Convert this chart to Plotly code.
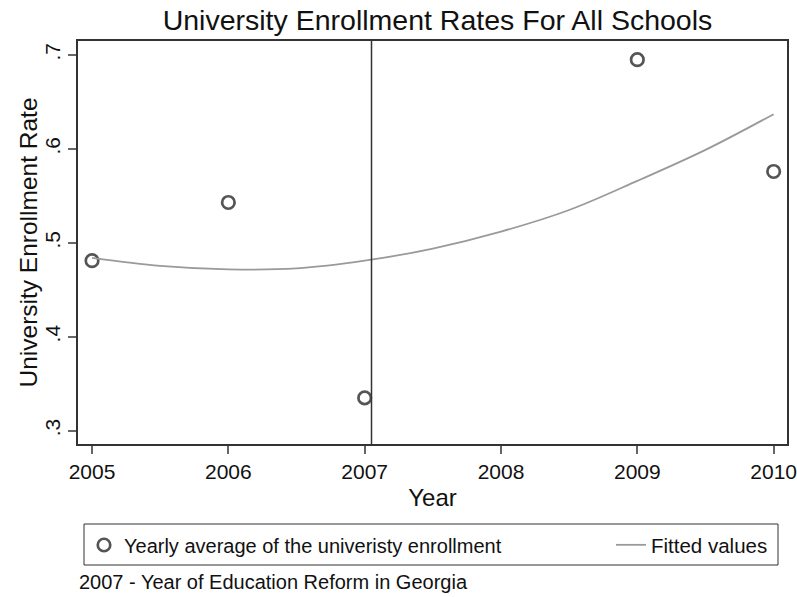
import plotly.graph_objects as go

# Yearly averages of university enrollment
years = [2005, 2006, 2007, 2009, 2010]
enroll_rate = [0.481, 0.543, 0.335, 0.695, 0.576]

# Fitted values (quadratic trend) sampled along the year axis
fit_years = [2005, 2005.5, 2006, 2006.5, 2007, 2007.5, 2008, 2008.5, 2009, 2009.5, 2010]
fit_values = [0.484, 0.4755, 0.4718, 0.4728, 0.481, 0.494, 0.512, 0.535, 0.566, 0.599, 0.637]

# Reform year marker and axis ticks
reform_x = 2007.05
x_ticks = [2005, 2006, 2007, 2008, 2009, 2010]
y_ticks = [0.3, 0.4, 0.5, 0.6, 0.7]
y_tick_text = [".3", ".4", ".5", ".6", ".7"]

FONT = "Liberation Sans, Arial, sans-serif"
W, H = 797, 597
ML, MR, MT, MB = 78, 10, 41, 153
PW, PH = W - ML - MR, H - MT - MB


def px_x(p):
    return (p - ML) / PW


def px_y(p):
    return (H - MB - p) / PH


fig = go.Figure()
fig.add_trace(go.Scatter(
    x=years, y=enroll_rate, mode="markers",
    name="Yearly average of the univeristy enrollment",
    marker=dict(symbol="circle-open", size=12.5, color="#555555",
                line=dict(width=2.7, color="#555555")),
    legend="legend",
))
fig.add_trace(go.Scatter(
    x=fit_years, y=fit_values, mode="lines", name="Fitted values",
    line=dict(color="#9a9a9a", width=1.8, shape="spline"),
    legend="legend2",
))

fig.add_shape(type="line", xref="x", yref="paper", x0=reform_x, x1=reform_x,
              y0=0, y1=1, line=dict(color="#333333", width=1.5))

# legend frame
fig.add_shape(type="rect", xref="paper", yref="paper",
              x0=px_x(84), x1=px_x(778), y0=px_y(565), y1=px_y(524),
              line=dict(color="#333333", width=1))

fig.add_annotation(text="2007 - Year of Education Reform in Georgia",
                   xref="paper", yref="paper", x=px_x(77), y=px_y(582),
                   xanchor="left", yanchor="middle", showarrow=False,
                   font=dict(family=FONT, size=20, color="#111111"))

# y-axis title
fig.add_annotation(text="University Enrollment Rate",
                   xref="paper", yref="paper", x=px_x(28), y=0.5,
                   xanchor="center", yanchor="middle", textangle=-90,
                   showarrow=False,
                   font=dict(family=FONT, size=24.5, color="#111111"))

fig.update_layout(
    width=W, height=H,
    margin=dict(l=ML, r=MR, t=MT, b=MB, autoexpand=False),
    paper_bgcolor="white", plot_bgcolor="white",
    font=dict(family=FONT, color="#111111"),
    title=dict(text="University Enrollment Rates For All Schools",
               xref="paper", x=px_x(437.5), xanchor="center",
               yref="container", y=1 - 20 / H, yanchor="middle",
               font=dict(family=FONT, size=28.5, color="#111111")),
    xaxis=dict(range=[2004.897, 2010.098], tickvals=x_ticks,
               showgrid=False, zeroline=False, showline=True, mirror=True,
               linecolor="#333333", linewidth=1.5,
               ticks="outside", ticklen=8, tickwidth=1.5, tickcolor="#666666",
               tickfont=dict(family=FONT, size=21, color="#111111"),
               title=dict(text="Year", standoff=7,
                          font=dict(family=FONT, size=24, color="#111111"))),
    yaxis=dict(range=[0.2859, 0.7149], tickvals=y_ticks, ticktext=y_tick_text,
               tickangle=-90,
               showgrid=False, zeroline=False, showline=True, mirror=True,
               linecolor="#333333", linewidth=1.5,
               ticks="outside", ticklen=8, tickwidth=1.5, tickcolor="#666666",
               tickfont=dict(family=FONT, size=21, color="#111111")),
    legend=dict(x=px_x(84), y=px_y(545), xanchor="left", yanchor="middle",
                orientation="h", bgcolor="rgba(0,0,0,0)", borderwidth=0,
                font=dict(family=FONT, size=20, color="#111111")),
    legend2=dict(x=px_x(611), y=px_y(545), xanchor="left", yanchor="middle",
                 orientation="h", bgcolor="rgba(0,0,0,0)", borderwidth=0,
                 font=dict(family=FONT, size=20.5, color="#111111")),
    showlegend=True,
)

fig.write_html("out.html")
